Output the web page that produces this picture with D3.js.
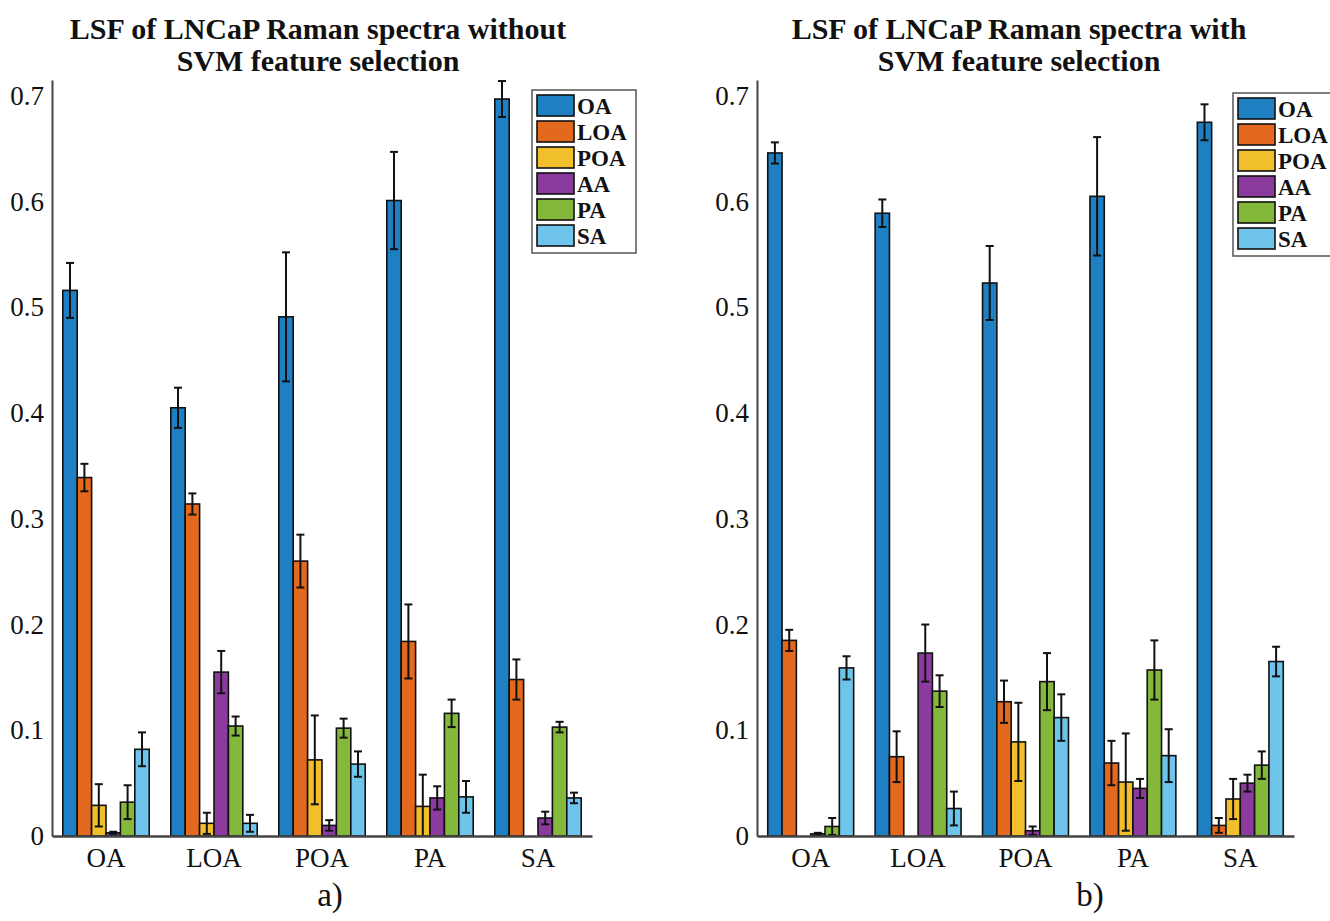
<!DOCTYPE html>
<html>
<head>
<meta charset="utf-8">
<script src="https://cdn.jsdelivr.net/npm/d3@7"></script>
<style>
  body { margin: 0; background: #fff; }
  svg text { font-family: "Liberation Serif", "Times New Roman", serif; fill: #111; }
</style>
</head>
<body>
<div id="chart"></div>
<script>
  // categories on x, series in legend
  var categories = ["OA", "LOA", "POA", "PA", "SA"];
  var seriesNames = ["OA", "LOA", "POA", "AA", "PA", "SA"];
  var seriesColors = ["#1f7fc3", "#e2691d", "#f2bf2c", "#8a3b9d", "#84b83a", "#6ec4ea"];
  var yTicks = [0, 0.1, 0.2, 0.3, 0.4, 0.5, 0.6, 0.7];

  // a) without SVM feature selection: one row per category, one value per series
  var valuesA = [
    [0.516, 0.339, 0.029, 0.003, 0.032, 0.082],
    [0.405, 0.314, 0.012, 0.155, 0.104, 0.012],
    [0.491, 0.260, 0.072, 0.010, 0.102, 0.068],
    [0.601, 0.184, 0.028, 0.036, 0.116, 0.037],
    [0.697, 0.148, 0.000, 0.017, 0.103, 0.036]
  ];
  var errorsA = [
    [0.026, 0.013, 0.020, 0.001, 0.016, 0.016],
    [0.019, 0.010, 0.010, 0.020, 0.009, 0.008],
    [0.061, 0.025, 0.042, 0.005, 0.009, 0.012],
    [0.046, 0.035, 0.030, 0.011, 0.013, 0.015],
    [0.017, 0.019, 0.000, 0.006, 0.005, 0.005]
  ];

  // b) with SVM feature selection
  var valuesB = [
    [0.646, 0.185, 0.000, 0.002, 0.009, 0.159],
    [0.589, 0.075, 0.000, 0.173, 0.137, 0.026],
    [0.523, 0.127, 0.089, 0.005, 0.146, 0.112],
    [0.605, 0.069, 0.051, 0.045, 0.157, 0.076],
    [0.675, 0.010, 0.035, 0.050, 0.067, 0.165]
  ];
  var errorsB = [
    [0.010, 0.010, 0.000, 0.001, 0.008, 0.011],
    [0.013, 0.024, 0.000, 0.027, 0.015, 0.016],
    [0.035, 0.020, 0.037, 0.004, 0.027, 0.022],
    [0.056, 0.021, 0.046, 0.009, 0.028, 0.025],
    [0.017, 0.007, 0.019, 0.008, 0.013, 0.014]
  ];

  var svg = d3.select("#chart").append("svg")
    .attr("width", 1330)
    .attr("height", 921);

  var panels = [
    { left: 52, right: 592, title: ["LSF of LNCaP Raman spectra without", "SVM feature selection"],
      titleX: 318, label: "a)", labelX: 330, values: valuesA, errors: errorsA,
      legendX: 532, legendY: 90 },
    { left: 757, right: 1294, title: ["LSF of LNCaP Raman spectra with", "SVM feature selection"],
      titleX: 1019, label: "b)", labelX: 1090, values: valuesB, errors: errorsB,
      legendX: 1233, legendY: 93 }
  ];

  var y = d3.scaleLinear()
    .domain([0, 0.715])
    .range([836, 80]);

  panels.forEach(p => drawPanel(p));

  function drawPanel(p) {
    var g = svg.append("g");

    var x0 = d3.scaleBand()
      .domain(categories)
      .range([p.left, p.right])
      .padding(0);

    var x1 = d3.scaleBand()
      .domain(seriesNames)
      .range([x0.bandwidth() * 0.1, x0.bandwidth() * 0.9])
      .padding(0);

    // title
    g.append("text")
      .attr("x", p.titleX)
      .attr("y", 39)
      .attr("text-anchor", "middle")
      .attr("font-size", "30px")
      .attr("font-weight", "bold")
      .text(p.title[0]);
    g.append("text")
      .attr("x", p.titleX)
      .attr("y", 71)
      .attr("text-anchor", "middle")
      .attr("font-size", "30px")
      .attr("font-weight", "bold")
      .text(p.title[1]);

    // bars
    var groups = g.selectAll("g.grp")
      .data(p.values)
      .join("g")
      .attr("class", "grp")
      .attr("transform", (d, i) => "translate(" + x0(categories[i]) + ",0)");

    groups.each(function(row, gi) {
      var grp = d3.select(this);
      var cells = row.map((v, si) => ({ v: v, e: p.errors[gi][si], s: seriesNames[si], c: seriesColors[si] }));

      grp.selectAll("rect")
        .data(cells.filter(d => d.v > 0))
        .join("rect")
        .attr("x", d => x1(d.s))
        .attr("y", d => y(d.v))
        .attr("width", x1.bandwidth())
        .attr("height", d => y(0) - y(d.v))
        .attr("fill", d => d.c)
        .attr("stroke", "#111")
        .attr("stroke-width", 1.6);

      var eb = grp.selectAll("g.err")
        .data(cells.filter(d => d.e > 0))
        .join("g")
        .attr("class", "err")
        .attr("stroke", "#111")
        .attr("stroke-width", 2);

      eb.append("line")
        .attr("x1", d => x1(d.s) + x1.bandwidth() / 2)
        .attr("x2", d => x1(d.s) + x1.bandwidth() / 2)
        .attr("y1", d => y(d.v + d.e))
        .attr("y2", d => y(Math.max(0, d.v - d.e)));
      eb.append("line")
        .attr("x1", d => x1(d.s) + x1.bandwidth() / 2 - 4)
        .attr("x2", d => x1(d.s) + x1.bandwidth() / 2 + 4)
        .attr("y1", d => y(d.v + d.e))
        .attr("y2", d => y(d.v + d.e));
      eb.append("line")
        .attr("x1", d => x1(d.s) + x1.bandwidth() / 2 - 4)
        .attr("x2", d => x1(d.s) + x1.bandwidth() / 2 + 4)
        .attr("y1", d => y(Math.max(0, d.v - d.e)))
        .attr("y2", d => y(Math.max(0, d.v - d.e)));
    });

    // axes
    var yAxis = d3.axisLeft(y)
      .tickValues(yTicks)
      .tickSize(0)
      .tickPadding(8)
      .tickFormat(d => d === 0 ? "0" : d.toFixed(1));

    var yg = g.append("g")
      .attr("transform", "translate(" + p.left + ",0)")
      .call(yAxis);
    yg.select(".domain").attr("stroke", "#444").attr("stroke-width", 2);
    yg.selectAll("text")
      .attr("font-size", "27px")
      .attr("fill", "#111");

    var xAxis = d3.axisBottom(x0)
      .tickSize(0)
      .tickPadding(12);

    var xg = g.append("g")
      .attr("transform", "translate(0," + y(0) + ")")
      .call(xAxis);
    xg.select(".domain").attr("stroke", "#444").attr("stroke-width", 2.5);
    xg.selectAll("text")
      .attr("font-size", "27px")
      .attr("fill", "#111");

    // panel label
    g.append("text")
      .attr("x", p.labelX)
      .attr("y", 906)
      .attr("text-anchor", "middle")
      .attr("font-size", "33px")
      .text(p.label);

    // legend
    var lg = g.append("g")
      .attr("transform", "translate(" + p.legendX + "," + p.legendY + ")");
    lg.append("rect")
      .attr("width", 104)
      .attr("height", 163)
      .attr("fill", "#fff")
      .attr("stroke", "#555")
      .attr("stroke-width", 1.5);
    var rows = lg.selectAll("g.row")
      .data(seriesNames)
      .join("g")
      .attr("class", "row")
      .attr("transform", (d, i) => "translate(5," + (5 + i * 26) + ")");
    rows.append("rect")
      .attr("width", 37)
      .attr("height", 21)
      .attr("fill", (d, i) => seriesColors[i])
      .attr("stroke", "#111")
      .attr("stroke-width", 1.6);
    rows.append("text")
      .attr("x", 40)
      .attr("y", 19)
      .attr("font-size", "23px")
      .attr("font-weight", "bold")
      .text(d => d);
  }
</script>
</body>
</html>
